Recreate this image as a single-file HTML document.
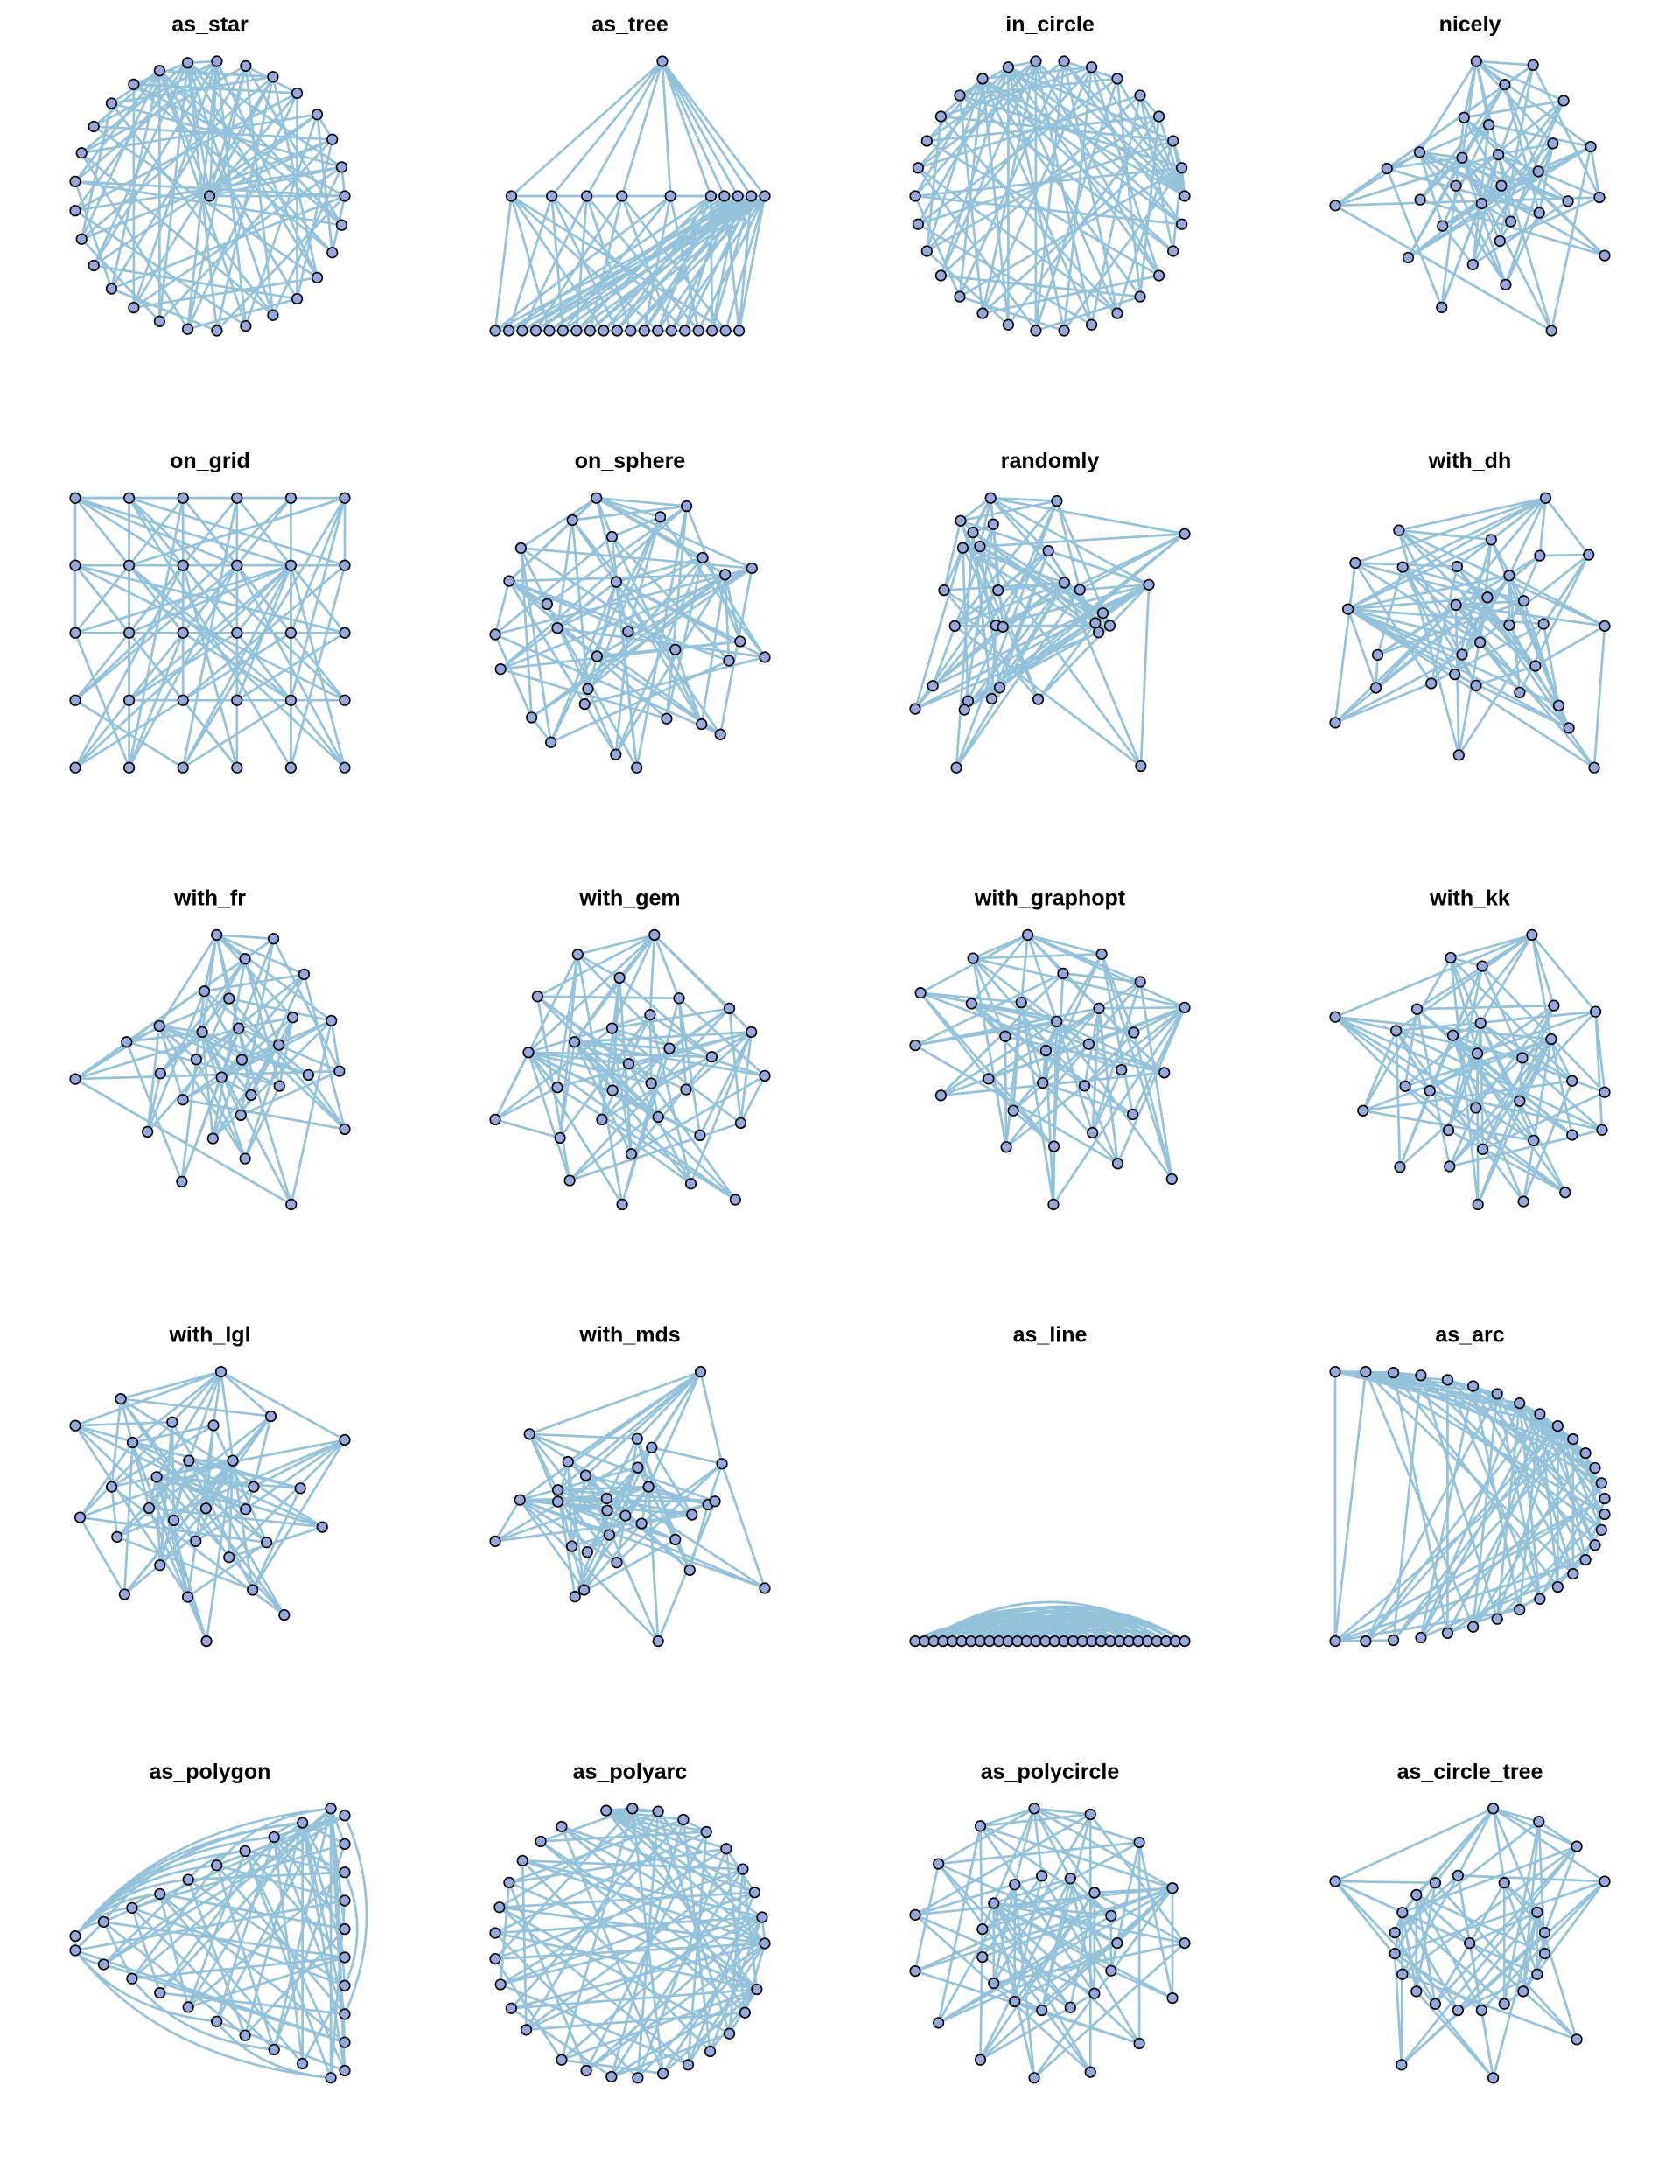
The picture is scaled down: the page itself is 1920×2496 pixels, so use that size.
<!DOCTYPE html>
<html>
<head>
<meta charset="utf-8">
<style>
html,body{margin:0;padding:0;background:#fff;}
svg{display:block;}
text{font-family:"Liberation Sans",Arial,sans-serif;font-weight:bold;font-size:25px;fill:#000;}
</style>
</head>
<body>
<svg id="chart" width="1920" height="2496" viewBox="0 0 1920 2496" xmlns="http://www.w3.org/2000/svg">
<rect x="0" y="0" width="1920" height="2496" fill="#fff"/>
</svg>
<script>
const titles = ["as_star","as_tree","in_circle","nicely","on_grid","on_sphere","randomly","with_dh","with_fr","with_gem","with_graphopt","with_kk","with_lgl","with_mds","as_line","as_arc","as_polygon","as_polyarc","as_polycircle","as_circle_tree"];

const edges = [
[0,1],[0,2],[0,3],[0,4],[0,5],[0,6],[0,7],[0,8],[0,9],[0,10],
[1,2],[3,4],[6,10],[8,9],[2,9],[5,7],
[11,1],[11,5],[11,9],[12,2],[12,6],[12,10],[13,3],[13,8],[13,10],[14,4],[14,7],[14,9],
[15,1],[15,8],[15,10],[16,2],[16,5],[16,9],[17,3],[17,6],[17,10],[18,4],[18,8],[18,9],
[19,1],[19,7],[19,10],[20,2],[20,6],[20,8],[21,3],[21,9],[21,10],[22,5],[22,7],[22,8],
[23,1],[23,6],[23,9],[24,4],[24,8],[24,10],[25,2],[25,7],[25,9],[26,3],[26,5],[26,10],
[27,6],[27,8],[27,9],[28,1],[28,4],[28,10],[29,7],[29,9],[29,10],
[11,20],[12,25],[13,27],[14,22],[15,29],[16,24],[17,21],[18,26],[19,23],[11,28],[12,17],[15,19],[20,27],[22,26],[14,25]
];

const nicelyPts = [[742,210],[937,223],[840,290],[1042,345],[700,403],[785,428],[1005,492],[1135,503],[547,522],[693,541],[818,530],[435,578],[955,588],[672,637],[828,637],[257,705],[549,685],[760,698],[1057,690],[1165,677],[958,730],[860,760],[626,775],[823,827],[1183,877],[508,884],[730,908],[843,977],[623,1055],[1000,1135]];
const spherePts = [[329,57],[497,85],[284,133],[448,122],[358,190],[188,229],[527,262],[619,298],[569,320],[166,342],[366,345],[237,421],[256,503],[388,515],[140,525],[597,549],[476,577],[643,603],[576,615],[150,644],[313,712],[307,764],[208,810],[460,814],[525,833],[560,868],[244,895],[365,937],[404,982],[330,600]];
const randomPts = [[1064,57],[1188,67],[1008,135],[1069,147],[1031,175],[1427,180],[1012,228],[1044,223],[1172,238],[1360,354],[1202,347],[1231,371],[977,373],[1078,373],[1274,451],[997,495],[1074,493],[1087,498],[1260,485],[1287,494],[1266,517],[956,700],[1081,706],[1022,752],[1066,744],[1153,746],[1015,782],[923,779],[1000,980],[1345,975]];
const dhPts = [[980,57],[476,168],[793,200],[960,255],[1128,252],[326,280],[489,294],[676,292],[855,323],[301,438],[672,424],[780,398],[905,410],[855,493],[973,489],[1183,496],[755,552],[403,595],[693,594],[945,633],[668,662],[397,708],[587,693],[741,700],[891,724],[1025,769],[257,828],[1060,846],[682,939],[1147,982]];
const frPts = [[404,55],[510,68],[457,137],[567,190],[381,248],[427,273],[546,338],[618,349],[297,367],[377,388],[445,375],[236,422],[520,432],[366,482],[451,483],[140,549],[299,530],[413,543],[575,535],[633,522],[521,573],[468,604],[341,620],[449,673],[275,730],[397,753],[643,721],[457,822],[339,901],[543,979]];
const gemPts = [[1220,55],[1077,122],[1155,202],[1002,266],[1266,272],[1360,307],[1212,329],[1141,375],[1401,388],[1071,422],[985,458],[1248,444],[1327,473],[1172,497],[1426,538],[1039,578],[1142,588],[1214,564],[1279,585],[923,688],[1122,688],[1227,679],[1381,700],[1044,751],[1305,742],[1177,806],[1062,897],[1288,908],[1160,979],[1371,963]];
const graphoptPts = [[349,55],[487,121],[247,135],[415,187],[559,216],[149,254],[244,291],[337,287],[482,307],[642,304],[403,352],[547,390],[307,403],[139,434],[463,430],[383,452],[524,518],[604,528],[276,549],[377,563],[455,573],[187,606],[322,658],[545,671],[470,734],[309,783],[398,781],[517,840],[618,893],[397,980]];
const kkPts = [[1291,55],[1139,133],[1198,162],[1076,309],[1332,297],[1410,318],[923,336],[1037,383],[1195,357],[1143,399],[1327,412],[1189,461],[1273,476],[1054,573],[1100,589],[1366,555],[1427,594],[1268,624],[1186,647],[975,657],[1135,724],[1366,740],[1422,723],[1294,759],[1199,789],[1044,850],[1137,848],[1353,937],[1190,978],[1275,968]];
const lglPts = [[412,52],[225,145],[505,205],[140,237],[321,225],[398,236],[643,286],[247,295],[352,357],[434,357],[292,413],[208,447],[473,447],[560,452],[149,552],[278,520],[384,521],[458,524],[324,562],[601,585],[218,619],[365,634],[497,638],[427,689],[298,716],[232,816],[350,825],[471,801],[530,887],[385,977]];
const mdsPts = [[1306,52],[987,266],[1188,282],[1215,312],[1346,368],[1059,361],[1189,381],[1092,408],[1040,458],[1209,447],[969,492],[1040,498],[1131,487],[1132,528],[1320,508],[1333,497],[1166,546],[1290,543],[1196,573],[1136,612],[1259,628],[923,634],[1066,651],[1095,671],[1150,707],[1286,733],[1089,801],[1072,824],[1426,795],[1227,977]];
const polygonPts = [[140,488],[140,537],[193,439],[246,391],[298,343],[351,294],[404,245],[457,196],[511,148],[564,99],[617,50],[193,585],[246,634],[298,683],[351,732],[404,781],[457,829],[511,878],[564,926],[617,975],[643,74],[643,172],[643,269],[643,366],[643,464],[643,561],[643,658],[643,756],[643,853],[643,950]];
const polygonSides = ["U","L","U","U","U","U","U","U","U","U","U","L","L","L","L","L","L","L","L","L","R","R","R","R","R","R","R","R","R","R"];
const polyarcPts = [[1131,57],[1180,50],[1228,60],[1275,88],[1318,130],[1355,188],[1386,258],[1408,338],[1422,423],[1427,513],[1412,671],[1390,751],[1361,823],[1325,884],[1284,930],[1237,960],[1190,975],[1141,971],[1094,950],[1048,913],[982,810],[954,736],[934,654],[924,566],[924,477],[932,389],[950,304],[975,229],[1009,163],[1048,112]];
const polycirclePts = [[666,50],[859,70],[481,110],[1027,166],[337,240],[692,281],[790,290],[599,311],[873,339],[1141,323],[527,375],[257,415],[930,418],[488,464],[951,512],[1183,512],[488,560],[930,607],[257,608],[527,650],[873,685],[1141,701],[599,713],[692,743],[790,733],[337,786],[1027,857],[481,913],[859,955],[666,975]];
const circleTreePts = [[800,260],[957,305],[1087,390],[257,510],[601,515],[679,490],[838,515],[1183,510],[536,556],[488,617],[951,616],[462,686],[977,686],[719,722],[462,758],[977,758],[488,829],[951,829],[536,888],[903,888],[601,931],[679,953],[760,953],[838,931],[1087,1053],[485,1140],[800,1185]];
const treeLevel2X = [0.06,0.21,0.34,0.47,0.65,0.80,0.85,0.90,0.95,1.0];
const treeRootX = 0.62;

const N = 30;
const SVGNS = "http://www.w3.org/2000/svg";
const svg = document.getElementById("chart");
const BOX = 308, BOX_X = 86, BOX_Y = 70, COL_W = 480, ROW_H = 499.2;

function starLayout(){ const p=[[0,0]]; for(let k=0;k<N-1;k++){const a=k*2*Math.PI/(N-1); p.push([Math.cos(a),-Math.sin(a)]);} return p; }
function circleLayout(){ const p=[]; for(let k=0;k<N;k++){const a=k*2*Math.PI/N; p.push([Math.cos(a),-Math.sin(a)]);} return p; }
function gridLayout(){ const p=[]; for(let k=0;k<N;k++){p.push([k%6, Math.floor(k/6)]);} return p; }
function treeLayout(){ const p=[[treeRootX,0]]; treeLevel2X.forEach(x=>p.push([x,0.5])); for(let k=0;k<N-11;k++){p.push([k/(N-11)*0.955+0.0,1]);} return p; }
function lineLayout(){ const p=[]; for(let k=0;k<N;k++){p.push([k,1]);} return p; }
function arcLayout(){ const p=[[0,0],[0,1]]; const m=N-2; for(let k=0;k<m;k++){const a=Math.PI/2 - k*Math.PI/(m-1); p.push([0.113+0.887*Math.cos(a), 0.5-0.5*Math.sin(a)]);} return p; }

const layouts = [starLayout(), treeLayout(), circleLayout(), nicelyPts, gridLayout(), spherePts, randomPts, dhPts, frPts, gemPts, graphoptPts, kkPts, lglPts, mdsPts, lineLayout(), arcLayout(), polygonPts, polyarcPts, polycirclePts, circleTreePts];

function mapPts(pts, col, row){
  let minx=Infinity,maxx=-Infinity,miny=Infinity,maxy=-Infinity;
  pts.forEach(p=>{minx=Math.min(minx,p[0]);maxx=Math.max(maxx,p[0]);miny=Math.min(miny,p[1]);maxy=Math.max(maxy,p[1]);});
  const x0=col*COL_W+BOX_X, y0=row*ROW_H+BOX_Y;
  return pts.map(p=>[
    x0 + (maxx>minx ? (p[0]-minx)/(maxx-minx) : 0.5)*BOX,
    y0 + (maxy>miny ? (p[1]-miny)/(maxy-miny) : 1)*BOX
  ]);
}

titles.forEach((title, pi)=>{
  const col = pi%4, row = Math.floor(pi/4);
  const g = document.createElementNS(SVGNS,"g");
  
  
  svg.appendChild(g);

  const t = document.createElementNS(SVGNS,"text");
  t.setAttribute("x", col*COL_W+240);
  t.setAttribute("y", row*ROW_H+36);
  t.setAttribute("text-anchor","middle");
  t.textContent = title;
  
  
  g.appendChild(t);

  const pts = mapPts(layouts[pi], col, row);
  const n = pts.length;

  const eg = document.createElementNS(SVGNS,"g");
  eg.setAttribute("stroke","#94c2db");
  eg.setAttribute("stroke-width","2.7");
  eg.setAttribute("fill","none");
  
  
  g.appendChild(eg);

  edges.forEach(e=>{
    if(e[0]>=n || e[1]>=n) return;
    const a=pts[e[0]], b=pts[e[1]];
    let d;
    if(title==="as_line"){
      const apex = 48*Math.abs(a[0]-b[0])/BOX;
      d = `M${a[0]},${a[1]} Q${(a[0]+b[0])/2},${a[1]-2*apex} ${b[0]},${b[1]}`;
    } else if(title==="as_polygon" && polygonSides[e[0]]===polygonSides[e[1]]){
      const s=polygonSides[e[0]];
      const nv = s==="U"?[-0.68,-0.74]:(s==="L"?[-0.68,0.74]:[1,0]);
      const dist=Math.hypot(b[0]-a[0],b[1]-a[1]);
      const off=0.22*dist;
      d = `M${a[0]},${a[1]} Q${(a[0]+b[0])/2+nv[0]*off},${(a[1]+b[1])/2+nv[1]*off} ${b[0]},${b[1]}`;
    } else {
      d = `M${a[0]},${a[1]} L${b[0]},${b[1]}`;
    }
    const p = document.createElementNS(SVGNS,"path");
    p.setAttribute("d", d);
    
    
    eg.appendChild(p);
  });

  const ng = document.createElementNS(SVGNS,"g");
  ng.setAttribute("fill","#97a9dc");
  ng.setAttribute("stroke","#000");
  ng.setAttribute("stroke-width","1.6");
  
  
  g.appendChild(ng);
  pts.forEach(p=>{
    const c = document.createElementNS(SVGNS,"circle");
    c.setAttribute("cx", p[0]);
    c.setAttribute("cy", p[1]);
    c.setAttribute("r", 5.8);
    
    
    ng.appendChild(c);
  });
});
</script>
</body>
</html>
